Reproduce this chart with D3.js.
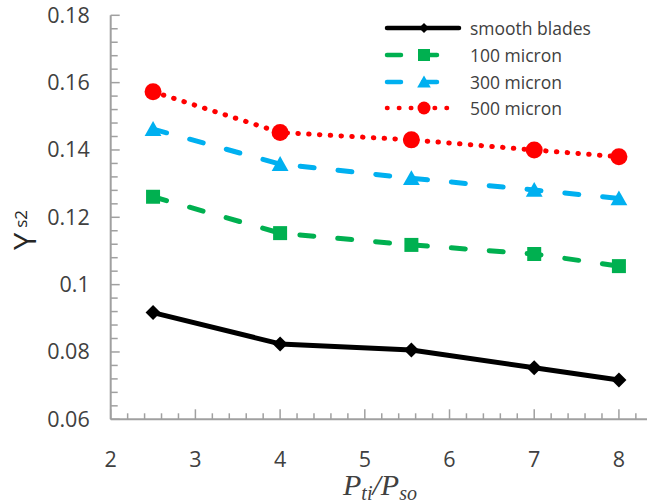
<!DOCTYPE html>
<html><head><meta charset="utf-8">
<script src="https://cdn.jsdelivr.net/npm/d3@7"></script>
<style>
html,body{margin:0;padding:0;background:#fff;}
svg{display:block;}
</style></head>
<body>
<svg id="chart" width="647" height="504"></svg>
<script>
const xValues = [2.5, 4, 5.55, 7, 8];
const smoothBlades = [0.0917, 0.0824, 0.0806, 0.0753, 0.0717];
const micron100 = [0.1261, 0.1153, 0.1118, 0.1091, 0.1055];
const micron300 = [0.1462, 0.1358, 0.1316, 0.1281, 0.1256];
const micron500 = [0.1573, 0.1452, 0.1430, 0.1400, 0.1380];
const seriesNames = ["smooth blades", "100 micron", "300 micron", "500 micron"];
const xTickValues = [2, 3, 4, 5, 6, 7, 8];
const yTickValues = [0.06, 0.08, 0.1, 0.12, 0.14, 0.16, 0.18];
const yTickLabels = ["0.06", "0.08", "0.1", "0.12", "0.14", "0.16", "0.18"];

const series = [
  {name: seriesNames[0], values: smoothBlades, color: "#000000", dash: null, legDash: null, legEnd: 459, marker: "diamond"},
  {name: seriesNames[1], values: micron100, color: "#00b050", dash: "14,24", legDash: "14,22", legEnd: 443, marker: "square"},
  {name: seriesNames[2], values: micron300, color: "#00b0f0", dash: "14,24", legDash: "14,22", legEnd: 443, marker: "triangle"},
  {name: seriesNames[3], values: micron500, color: "#ff0000", dash: "0.5,10.3", legDash: "0.5,11.4", legEnd: 456, marker: "circle"}
];

const svg = d3.select("#chart");
const x = d3.scaleLinear().domain([2, 8.4]).range([110.7, 652.8]);
const y = d3.scaleLinear().domain([0.06, 0.18]).range([419.3, 15.3]);
const axisColor = "#a0a0a0";
const textColor = "#404040";

// X axis
const xMinor = d3.range(0, 33).map(i => 2 + i * 0.2).filter(v => Math.abs(v - Math.round(v)) > 1e-6);
const xAxisG = svg.append("g").attr("transform", `translate(0,${y(0.06)})`);
xAxisG.append("line").attr("x1", x(2)).attr("x2", 647).attr("stroke", axisColor).attr("stroke-width", 2);
xAxisG.selectAll(".xmin").data(xMinor).join("line")
  .attr("x1", d => x(d)).attr("x2", d => x(d)).attr("y1", 0).attr("y2", -6)
  .attr("stroke", axisColor).attr("stroke-width", 1.5);
xAxisG.selectAll(".xmaj").data(xTickValues).join("line")
  .attr("x1", d => x(d)).attr("x2", d => x(d)).attr("y1", 0).attr("y2", -10)
  .attr("stroke", axisColor).attr("stroke-width", 1.5);
xAxisG.selectAll(".xlab").data(xTickValues).join("text")
  .attr("x", d => x(d)).attr("y", 48)
  .attr("text-anchor", "middle")
  .attr("font-family", "Open Sans, sans-serif").attr("font-size", 21.5)
  .attr("fill", textColor).text(d => d);

// Y axis
const yMinor = d3.range(0, 31).map(i => 0.06 + i * 0.004).filter(v => Math.abs(v / 0.02 - Math.round(v / 0.02)) > 1e-6);
const yAxisG = svg.append("g").attr("transform", `translate(${x(2)},0)`);
yAxisG.append("line").attr("y1", y(0.06)).attr("y2", y(0.18)).attr("stroke", axisColor).attr("stroke-width", 2);
yAxisG.selectAll(".ymin").data(yMinor).join("line")
  .attr("y1", d => y(d)).attr("y2", d => y(d)).attr("x1", 0).attr("x2", 7)
  .attr("stroke", axisColor).attr("stroke-width", 1.5);
yAxisG.selectAll(".ymaj").data(yTickValues).join("line")
  .attr("y1", d => y(d)).attr("y2", d => y(d)).attr("x1", 0).attr("x2", 9)
  .attr("stroke", axisColor).attr("stroke-width", 1.5);
yAxisG.selectAll(".ylab").data(yTickValues).join("text")
  .attr("x", -21).attr("y", d => y(d) + 7.5)
  .attr("text-anchor", "end")
  .attr("font-family", "Open Sans, sans-serif").attr("font-size", 21.5)
  .attr("fill", textColor).text((d, i) => yTickLabels[i]);

// Axis titles
const xt = svg.append("text").attr("x", 380).attr("y", 495).attr("text-anchor", "middle")
  .attr("font-family", "Liberation Serif, serif").attr("font-style", "italic").attr("font-size", 30).attr("fill", textColor);
xt.append("tspan").text("P");
xt.append("tspan").attr("font-size", 20).attr("dy", 5).text("ti");
xt.append("tspan").attr("dy", -5).text("/P");
xt.append("tspan").attr("font-size", 20).attr("dy", 5).text("so");

const yt = svg.append("text").attr("transform", "translate(36,230) rotate(-90)").attr("text-anchor", "middle")
  .attr("font-family", "Open Sans, sans-serif").attr("font-size", 31).attr("fill", "#262626");
yt.append("tspan").text("Y");
yt.append("tspan").attr("font-size", 17).attr("dy", -9).attr("dx", 5).text("s2");

// Marker helper
function markerPath(type, s) {
  const h = s / 2;
  if (type === "diamond") return `M0,${-h}L${h},0L0,${h}L${-h},0Z`;
  if (type === "square") return `M${-h},${-h}H${h}V${h}H${-h}Z`;
  if (type === "triangle") return `M0,${-h * 1.0}L${h * 1.05},${h * 0.85}L${-h * 1.05},${h * 0.85}Z`;
  if (type === "circle") return d3.arc()({innerRadius: 0, outerRadius: h, startAngle: 0, endAngle: 2 * Math.PI});
}
const markerSize = {diamond: 15, square: 14, triangle: 16, circle: 17};
const legMarkerSize = {diamond: 10, square: 12, triangle: 13, circle: 13};

const line = d3.line().x((d, i) => x(xValues[i])).y(d => y(d));

const plot = svg.append("g");
series.forEach(s => {
  const p = plot.append("path").attr("d", line(s.values)).attr("fill", "none")
    .attr("stroke", s.color).attr("stroke-width", 5).attr("stroke-linecap", "round").attr("stroke-linejoin", "round");
  if (s.dash) p.attr("stroke-dasharray", s.dash);
  plot.selectAll(null).data(s.values).join("path")
    .attr("transform", (d, i) => `translate(${x(xValues[i])},${y(d)})`)
    .attr("d", markerPath(s.marker, markerSize[s.marker]))
    .attr("fill", s.color);
});

// Legend
const legend = svg.append("g");
const legRows = [28, 55, 82, 108];
series.forEach((s, i) => {
  const g = legend.append("g").attr("transform", `translate(0,${legRows[i]})`);
  const l = g.append("line").attr("x1", 387).attr("x2", s.legEnd).attr("y1", 0).attr("y2", 0)
    .attr("stroke", s.color).attr("stroke-width", 4.5).attr("stroke-linecap", "round");
  if (s.legDash) l.attr("stroke-dasharray", s.legDash);
  g.append("path").attr("transform", "translate(424,0)").attr("d", markerPath(s.marker, legMarkerSize[s.marker])).attr("fill", s.color);
  g.append("text").attr("x", 470).attr("y", 6.5).attr("font-family", "Open Sans, sans-serif").attr("font-size", 17.5)
    .attr("fill", textColor).text(s.name);
});
</script>
</body></html>
